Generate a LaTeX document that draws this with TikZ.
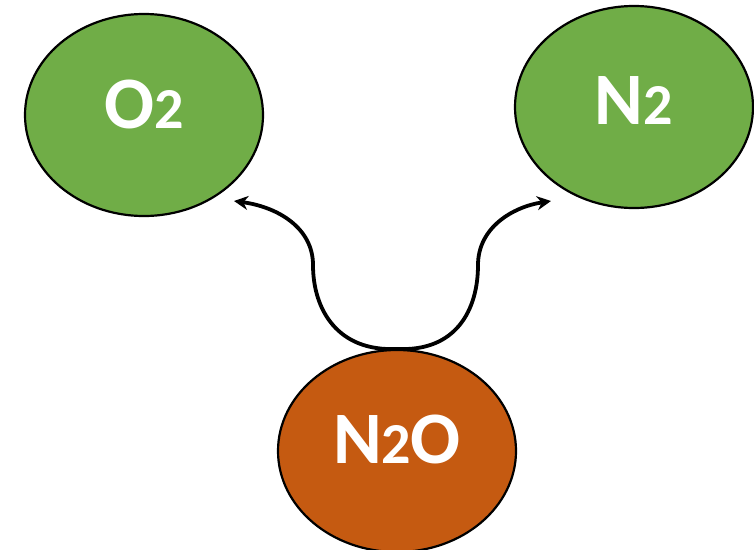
\documentclass[tikz,border=0pt]{standalone}
\usepackage{fontspec}
\setmainfont{Carlito}
\usetikzlibrary{shapes.geometric,arrows.meta}
\definecolor{molgreen}{HTML}{70AD47}
\definecolor{molorange}{HTML}{C55A11}
\tikzset{
  mol/.style={ellipse, draw=black, line width=2.2pt, inner sep=0pt,
    minimum width=238pt, minimum height=202pt, text=white,
    font=\bfseries\fontsize{74}{74}\selectfont},
  react/.style={line width=3.8pt, -{Stealth[length=14pt,width=14pt]}},
}
\newcommand{\smalldigit}[1]{{\fontsize{58}{58}\selectfont #1}}
\begin{document}
\begin{tikzpicture}[x=1pt,y=-1pt]
\useasboundingbox (0,0) rectangle (754,549);
\node[mol, fill=molgreen, text depth=22pt] (o2) at (144,115) {O\smalldigit{2}};
\node[mol, fill=molgreen, text depth=13pt] (n2) at (634,107) {N\smalldigit{2}};
\node[mol, fill=molorange, text depth=24pt] (n2o) at (397,451) {N\kern-1pt\smalldigit{2}\kern-1pt O};
\coordinate (tl) at (234,201);
\coordinate (tr) at (551,201);
\draw[react] (n2o.north) .. controls (338,352) and (313,310) .. (313,265)
  .. controls (313,228) and (278,207) .. (tl);
\draw[react] (n2o.north) .. controls (456,352) and (478,310) .. (478,265)
  .. controls (478,228) and (512,207) .. (tr);
\end{tikzpicture}
\end{document}
